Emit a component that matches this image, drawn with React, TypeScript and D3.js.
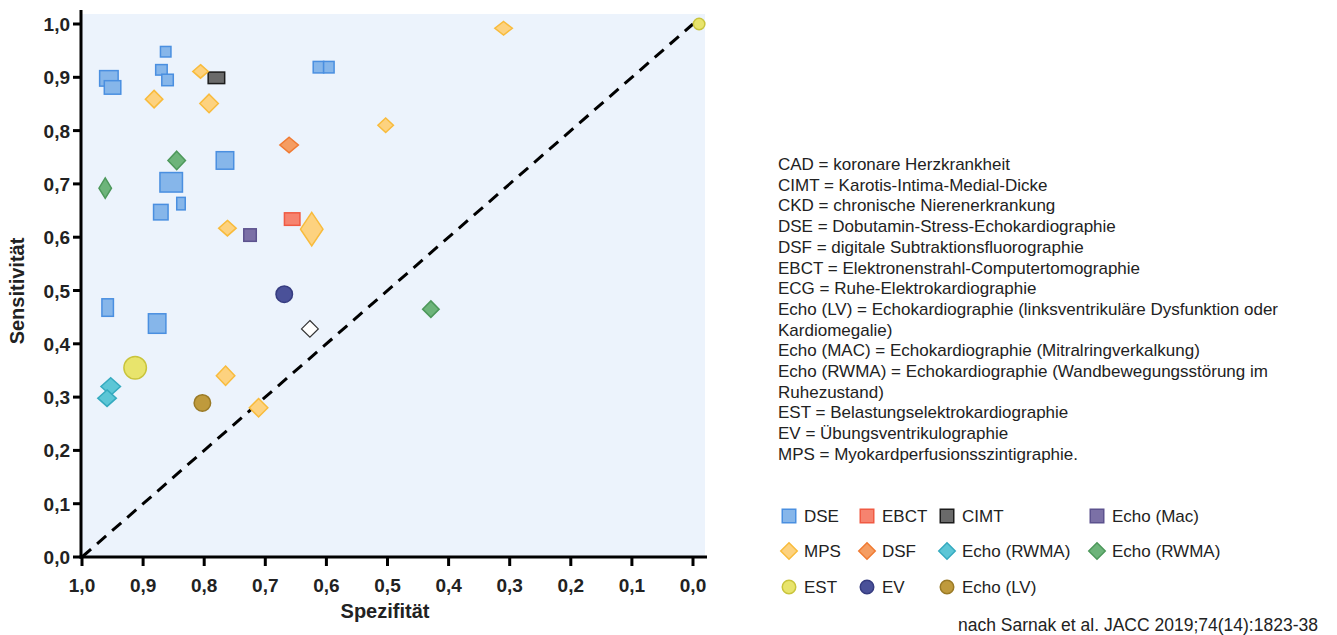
import React from 'react';
import * as d3 from 'd3';

// [Spezifität, Sensitivität, markerBreite, markerHöhe] – marker dims reflect study weight
const dse = [
  [0.956, 0.898, 20, 17], [0.95, 0.881, 18, 15], [0.863, 0.948, 12, 12], [0.87, 0.914, 13, 12],
  [0.86, 0.895, 13, 13], [0.613, 0.919, 12, 13], [0.596, 0.919, 12, 13], [0.766, 0.744, 19, 19],
  [0.854, 0.703, 24, 21], [0.838, 0.663, 10, 14], [0.871, 0.647, 16, 17], [0.958, 0.468, 13, 19],
  [0.877, 0.438, 19, 21],
];
const ebct = [[0.656, 0.634, 17, 14]];
const cimt = [[0.78, 0.899, 18, 13]];
const echoMac = [[0.725, 0.604, 14, 14]];
const mps = [
  [0.31, 0.992, 19, 15], [0.503, 0.81, 17, 16], [0.806, 0.911, 17, 15], [0.882, 0.859, 19, 19],
  [0.792, 0.851, 20, 20], [0.762, 0.617, 19, 17], [0.624, 0.615, 24, 35], [0.765, 0.34, 20, 21],
  [0.711, 0.28, 20, 20],
];
const dsf = [[0.661, 0.773, 20, 17]];
const rwmaCyan = [[0.953, 0.32, 21, 19], [0.959, 0.298, 20, 18]];
const rwmaGreen = [[0.962, 0.692, 14, 22], [0.845, 0.744, 19, 20], [0.429, 0.465, 18, 18]];
const ecg = [[0.627, 0.428, 18, 18]];
const est = [[0.913, 0.355, 24, 24], [-0.01, 1.0, 13, 13]];
const ev = [[0.669, 0.493, 18, 18]];
const echoLv = [[0.803, 0.289, 18, 18]];

const tickValues = [0, 0.1, 0.2, 0.3, 0.4, 0.5, 0.6, 0.7, 0.8, 0.9, 1.0];

const definitions = [
  'CAD = koronare Herzkrankheit',
  'CIMT = Karotis-Intima-Medial-Dicke',
  'CKD = chronische Nierenerkrankung',
  'DSE = Dobutamin-Stress-Echokardiographie',
  'DSF = digitale Subtraktionsfluorographie',
  'EBCT = Elektronenstrahl-Computertomographie',
  'ECG = Ruhe-Elektrokardiographie',
  'Echo (LV) = Echokardiographie (linksventrikuläre Dysfunktion oder',
  'Kardiomegalie)',
  'Echo (MAC) = Echokardiographie (Mitralringverkalkung)',
  'Echo (RWMA) = Echokardiographie (Wandbewegungsstörung im',
  'Ruhezustand)',
  'EST = Belastungselektrokardiographie',
  'EV = Übungsventrikulographie',
  'MPS = Myokardperfusionsszintigraphie.',
];

const series = [
  { key: 'dse', data: dse, shape: 'square', fill: '#86b6ea', stroke: '#4a8fe0', label: 'DSE' },
  { key: 'ebct', data: ebct, shape: 'square', fill: '#f6836f', stroke: '#f05a43', label: 'EBCT' },
  { key: 'cimt', data: cimt, shape: 'square', fill: '#6a6a6a', stroke: '#1c1c1c', label: 'CIMT' },
  { key: 'mac', data: echoMac, shape: 'square', fill: '#7b70a6', stroke: '#5c528e', label: 'Echo (Mac)' },
  { key: 'mps', data: mps, shape: 'diamond', fill: '#fdd27f', stroke: '#f8bb3c', label: 'MPS' },
  { key: 'dsf', data: dsf, shape: 'diamond', fill: '#f59d62', stroke: '#f07a32', label: 'DSF' },
  { key: 'cyan', data: rwmaCyan, shape: 'diamond', fill: '#5cc6d6', stroke: '#35aabf', label: 'Echo (RWMA)' },
  { key: 'green', data: rwmaGreen, shape: 'diamond', fill: '#6db47a', stroke: '#4d985b', label: 'Echo (RWMA)' },
  { key: 'ecg', data: ecg, shape: 'diamond', fill: '#ffffff', stroke: '#333333', label: null },
  { key: 'est', data: est, shape: 'circle', fill: '#e8e46c', stroke: '#c9c43c', label: 'EST' },
  { key: 'ev', data: ev, shape: 'circle', fill: '#4a5199', stroke: '#363c80', label: 'EV' },
  { key: 'lv', data: echoLv, shape: 'circle', fill: '#bf9a3c', stroke: '#9a7a26', label: 'Echo (LV)' },
];

// legend grid: [series key, column, row]
const legendLayout = [
  ['dse', 0, 0], ['ebct', 1, 0], ['cimt', 2, 0], ['mac', 3, 0],
  ['mps', 0, 1], ['dsf', 1, 1], ['cyan', 2, 1], ['green', 3, 1],
  ['est', 0, 2], ['ev', 1, 2], ['lv', 2, 2],
];

const Marker = ({ shape, cx, cy, w, h, fill, stroke, sw = 1.5 }) => {
  if (shape === 'square') {
    return <rect x={cx - (w - sw) / 2} y={cy - (h - sw) / 2} width={w - sw} height={h - sw}
      fill={fill} stroke={stroke} strokeWidth={sw} />;
  }
  if (shape === 'diamond') {
    const a = (w - sw) / 2, b = (h - sw) / 2;
    return <path d={`M${cx},${cy - b}L${cx + a},${cy}L${cx},${cy + b}L${cx - a},${cy}Z`}
      fill={fill} stroke={stroke} strokeWidth={sw} />;
  }
  return <circle cx={cx} cy={cy} r={(w - sw) / 2} fill={fill} stroke={stroke} strokeWidth={sw} />;
};

export default function App() {
  const x = d3.scaleLinear().domain([1, 0]).range([82, 693]);
  const y = d3.scaleLinear().domain([0, 1]).range([557, 24]);
  const fmt = (v) => d3.format('.1f')(v).replace('.', ',');
  const diag = d3.line().x((d) => x(d[0])).y((d) => y(d[1]))([[1, 0], [0, 1]]);

  const legendX = [789, 867, 947, 1097];
  const legendY = [516, 551, 587];

  return (
    <svg width={1337} height={635} style={{ position: 'absolute', left: 0, top: 0 }}
      fontFamily="'Liberation Sans', Arial, sans-serif">
      <rect x={82} y={14} width={623} height={543} fill="#ecf3fc" />

      <path d={diag} stroke="#000" strokeWidth={3} strokeDasharray="12 8" fill="none" />

      {series.map((s) =>
        s.data.map((d, i) => (
          <Marker key={s.key + i} shape={s.shape} cx={x(d[0])} cy={y(d[1])} w={d[2]} h={d[3]}
            fill={s.fill} stroke={s.stroke} sw={s.key === 'ecg' ? 1.2 : 1.5} />
        ))
      )}

      {/* axes */}
      <line x1={81} x2={81} y1={10} y2={558.5} stroke="#000" strokeWidth={3} />
      <line x1={79.5} x2={707} y1={557} y2={557} stroke="#000" strokeWidth={3} />
      {tickValues.map((t) => (
        <g key={'y' + t}>
          <line x1={73} x2={81} y1={y(t)} y2={y(t)} stroke="#000" strokeWidth={3} />
          <text x={70} y={y(t) + 7} textAnchor="end" fontSize={19} fontWeight="bold" fill="#222">{fmt(t)}</text>
        </g>
      ))}
      {tickValues.map((t) => (
        <g key={'x' + t}>
          <line x1={x(t)} x2={x(t)} y1={557} y2={566} stroke="#000" strokeWidth={3} />
          <text x={x(t)} y={592} textAnchor="middle" fontSize={19} fontWeight="bold" fill="#222">{fmt(t)}</text>
        </g>
      ))}
      <text x={385} y={618} textAnchor="middle" fontSize={20} fontWeight="bold" fill="#222">Spezifität</text>
      <text transform="translate(24,291) rotate(-90)" textAnchor="middle" fontSize={20} fontWeight="bold" fill="#222">Sensitivität</text>

      {/* definitions */}
      {definitions.map((line, i) => (
        <text key={i} x={778} y={170 + i * 20.7} fontSize={17} fill="#222">{line}</text>
      ))}

      {/* legend */}
      {legendLayout.map(([k, c, r]) => {
        const s = series.find((d) => d.key === k);
        const mx = legendX[c], my = legendY[r];
        const dims = s.shape === 'diamond' ? [18, 18] : [15, 15];
        return (
          <g key={'lg' + k}>
            <Marker shape={s.shape} cx={mx} cy={my} w={dims[0]} h={dims[1]} fill={s.fill} stroke={s.stroke} />
            <text x={mx + 15} y={my + 6} fontSize={17} fill="#222">{s.label}</text>
          </g>
        );
      })}

      <text x={958} y={631} fontSize={17.5} fill="#222">nach Sarnak et al. JACC 2019;74(14):1823-38</text>
    </svg>
  );
}
